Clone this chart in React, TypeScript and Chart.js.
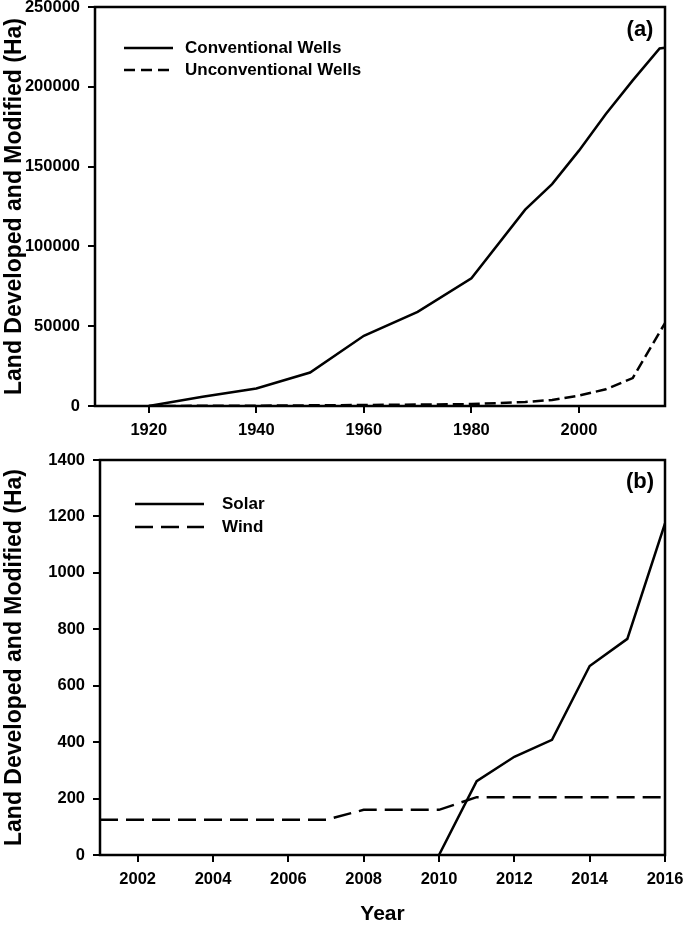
import React, { useEffect, useRef } from 'react';
import { Chart, registerables } from 'chart.js';

Chart.register(...registerables);

// ---- Panel (a) data ----
const conventionalYears = [1920, 1930, 1940, 1950, 1960, 1970, 1980, 1990, 1995, 2000, 2005, 2010, 2015, 2016];
const conventionalHa = [0, 5800, 11000, 21000, 44000, 59000, 80000, 123000, 139000, 160000, 183000, 204000, 224000, 224500];
const unconventionalYears = [1920, 1930, 1940, 1950, 1960, 1970, 1980, 1990, 1995, 2000, 2005, 2010, 2016];
const unconventionalHa = [0, 100, 200, 400, 600, 900, 1200, 2500, 3800, 6500, 10500, 17500, 52000];
const topXTicks = [1920, 1940, 1960, 1980, 2000];
const topYTicks = [0, 50000, 100000, 150000, 200000, 250000];

// ---- Panel (b) data ----
const solarYears = [2010, 2011, 2012, 2013, 2014, 2015, 2016];
const solarHa = [0, 262, 348, 408, 670, 766, 1175];
const windYears = [2001, 2002, 2003, 2004, 2005, 2006, 2007, 2008, 2009, 2010, 2011, 2012, 2013, 2014, 2015, 2016];
const windHa = [125, 125, 125, 125, 125, 125, 125, 160, 160, 160, 205, 205, 205, 205, 205, 205];
const bottomXTicks = [2002, 2004, 2006, 2008, 2010, 2012, 2014, 2016];
const bottomYTicks = [0, 200, 400, 600, 800, 1000, 1200, 1400];

const yTitle = 'Land Developed and Modified (Ha)';
const FONT = "'Liberation Sans', Arial, sans-serif";

const toPoints = (xs: number[], ys: number[]) => xs.map((x, i) => ({ x, y: ys[i] }));

type LegendItem = { text: string; dash: number[]; x1: number; x2: number; y: number };

const panelPlugin = {
  id: 'panelDeco',
  afterDraw(chart: any) {
    const opts = chart.options.plugins.panelDeco;
    if (!opts) return;
    const { ctx, chartArea } = chart;
    ctx.save();
    // frame
    ctx.strokeStyle = '#000';
    ctx.lineWidth = 2.5;
    ctx.setLineDash([]);
    ctx.strokeRect(chartArea.left, chartArea.top, chartArea.right - chartArea.left, chartArea.bottom - chartArea.top);
    // legend
    (opts.legend as LegendItem[]).forEach((it) => {
      ctx.beginPath();
      ctx.setLineDash(it.dash);
      ctx.lineWidth = 2.5;
      ctx.moveTo(it.x1, it.y);
      ctx.lineTo(it.x2, it.y);
      ctx.stroke();
      ctx.setLineDash([]);
      ctx.fillStyle = '#000';
      ctx.font = `bold 17px ${FONT}`;
      ctx.textBaseline = 'middle';
      ctx.textAlign = 'left';
      ctx.fillText(it.text, opts.textX, it.y);
    });
    // panel label
    ctx.font = `bold 22px ${FONT}`;
    ctx.textAlign = 'center';
    ctx.textBaseline = 'middle';
    ctx.fillText(opts.label, opts.labelX, opts.labelY);
    ctx.restore();
  },
};

function makeOptions(cfg: {
  xMin: number; xMax: number; yMax: number; xTicks: number[]; yTicks: number[];
  yWidth: number; xHeight: number; padTop: number; showYear: boolean; deco: any;
}) {
  const tickFont = { family: FONT, size: 16.5, weight: 'bold' as const };
  const grid = { display: true, drawOnChartArea: false, drawTicks: true, tickLength: 7, lineWidth: 2, color: '#000' };
  return {
    responsive: false,
    animation: false as const,
    layout: { padding: { left: 0, top: cfg.padTop, right: 20, bottom: 0 } },
    plugins: { legend: { display: false }, tooltip: { enabled: false }, panelDeco: cfg.deco },
    elements: { point: { radius: 0 }, line: { tension: 0 } },
    scales: {
      x: {
        type: 'linear' as const,
        min: cfg.xMin,
        max: cfg.xMax,
        afterBuildTicks: (s: any) => { s.ticks = cfg.xTicks.map((v) => ({ value: v })); },
        ticks: { font: tickFont, color: '#000', padding: 8, maxRotation: 0, autoSkip: false, callback: (v: any) => String(v) },
        grid,
        border: { display: false },
        title: {
          display: cfg.showYear,
          text: 'Year',
          color: '#000',
          font: { family: FONT, size: 21, weight: 'bold' as const, lineHeight: 1 },
          padding: { top: 0, bottom: 0 },
        },
        afterFit: (s: any) => { s.height = cfg.xHeight; s.paddingLeft = 0; s.paddingRight = 0; },
      },
      y: {
        type: 'linear' as const,
        min: 0,
        max: cfg.yMax,
        afterBuildTicks: (s: any) => { s.ticks = cfg.yTicks.map((v) => ({ value: v })); },
        ticks: { font: tickFont, color: '#000', padding: 8, autoSkip: false, callback: (v: any) => String(v) },
        grid,
        border: { display: false },
        title: {
          display: true,
          text: yTitle,
          color: '#000',
          font: { family: FONT, size: 23, weight: 'bold' as const, lineHeight: 1 },
          padding: { top: 3, bottom: 0 },
        },
        afterFit: (s: any) => { s.width = cfg.yWidth; s.paddingTop = 0; s.paddingBottom = 0; },
      },
    },
  };
}

export default function App() {
  const topRef = useRef<HTMLCanvasElement>(null);
  const botRef = useRef<HTMLCanvasElement>(null);

  useEffect(() => {
    const top = new Chart(topRef.current!, {
      type: 'line',
      data: {
        datasets: [
          { label: 'Conventional Wells', data: toPoints(conventionalYears, conventionalHa), borderColor: '#000', borderWidth: 2.5, fill: false },
          { label: 'Unconventional Wells', data: toPoints(unconventionalYears, unconventionalHa), borderColor: '#000', borderWidth: 2.5, borderDash: [11, 5], fill: false },
        ],
      },
      options: makeOptions({
        xMin: 1910, xMax: 2016, yMax: 250000, xTicks: topXTicks, yTicks: topYTicks,
        yWidth: 95, xHeight: 39, padTop: 7, showYear: false,
        deco: {
          label: '(a)', labelX: 640, labelY: 30, textX: 185,
          legend: [
            { text: 'Conventional Wells', dash: [], x1: 124, x2: 173, y: 48 },
            { text: 'Unconventional Wells', dash: [11, 6], x1: 124, x2: 170, y: 70 },
          ],
        },
      }) as any,
      plugins: [panelPlugin],
    });
    const bot = new Chart(botRef.current!, {
      type: 'line',
      data: {
        datasets: [
          { label: 'Solar', data: toPoints(solarYears, solarHa), borderColor: '#000', borderWidth: 2.5, fill: false },
          { label: 'Wind', data: toPoints(windYears, windHa), borderColor: '#000', borderWidth: 2.5, borderDash: [18, 8], fill: false },
        ],
      },
      options: makeOptions({
        xMin: 2001, xMax: 2016, yMax: 1400, xTicks: bottomXTicks, yTicks: bottomYTicks,
        yWidth: 100, xHeight: 70, padTop: 15, showYear: true,
        deco: {
          label: '(b)', labelX: 640, labelY: 37, textX: 222,
          legend: [
            { text: 'Solar', dash: [], x1: 135, x2: 204, y: 59 },
            { text: 'Wind', dash: [18, 8], x1: 135, x2: 204, y: 82 },
          ],
        },
      }) as any,
      plugins: [panelPlugin],
    });
    return () => { top.destroy(); bot.destroy(); };
  }, []);

  return (
    <div style={{ position: 'fixed', left: 0, top: 0, width: 685, height: 925, background: '#fff' }}>
      <canvas ref={topRef} width={685} height={445} style={{ position: 'absolute', left: 0, top: 0 }} />
      <canvas ref={botRef} width={685} height={480} style={{ position: 'absolute', left: 0, top: 445 }} />
    </div>
  );
}
